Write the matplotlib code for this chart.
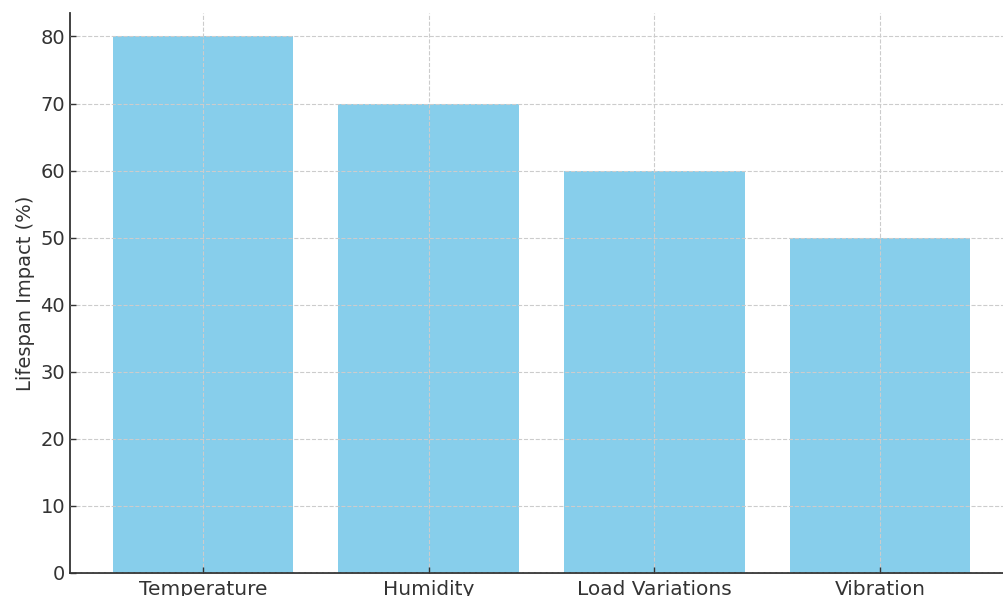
import matplotlib
matplotlib.use("Agg")
import matplotlib.pyplot as plt

# 数据
factors = ["Temperature", "Humidity", "Load Variations", "Vibration"]
impact = [80, 70, 60, 50]

fig = plt.figure(figsize=(10.04, 5.96), dpi=100)
# 原图右侧和底部被裁掉，轴区域延伸出画布
ax = fig.add_axes([70 / 1004, 23 / 596, 943 / 1004, 560 / 596])

ax.bar(factors, impact, width=0.8, color="#87CEEB")

ax.set_xlim(-0.59, 3.59)
ax.set_ylim(0, 83.5)
ax.set_yticks(range(0, 81, 10))

ax.set_ylabel("Lifespan Impact (%)", fontsize=14, color="#333333")
ax.tick_params(axis="both", direction="in", labelsize=14, colors="#333333",
               length=4, width=1)
ax.tick_params(axis="x", labelsize=14.5, pad=5)

ax.grid(True, linestyle="--", color="#cccccc", linewidth=0.8)
ax.set_axisbelow(False)

for s in ("top", "right"):
    ax.spines[s].set_visible(False)
for s in ("left", "bottom"):
    ax.spines[s].set_color("#333333")
    ax.spines[s].set_linewidth(1.3)

fig.savefig("out.png", dpi=100)
